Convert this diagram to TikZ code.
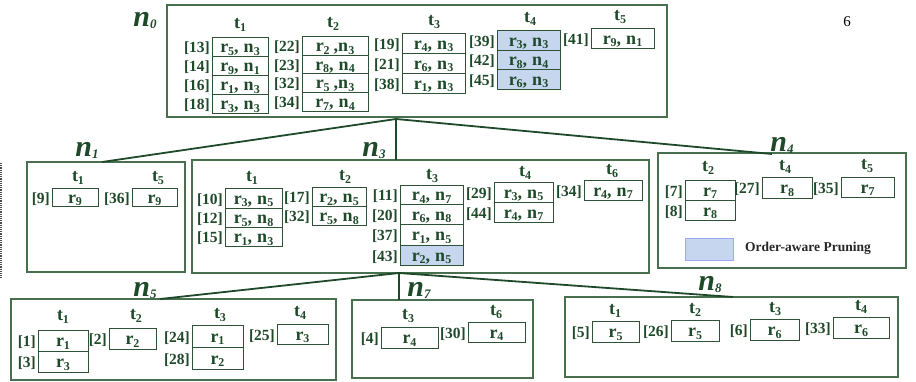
\documentclass[tikz,border=0pt]{standalone}
\usepackage{fontspec}
\setmainfont{Liberation Serif}
\definecolor{dg}{HTML}{1F4A2A}
\definecolor{frm}{HTML}{48704F}
\definecolor{cline}{HTML}{2E5236}
\definecolor{prune}{HTML}{C6D6EE}
\newcommand\cellfont{\fontsize{18}{18}\selectfont\bfseries}
\newcommand\idxfont{\fontsize{15.5}{15.5}\selectfont\bfseries}
\newcommand\legfont{\fontsize{13.5}{13.5}\selectfont\bfseries}
\newcommand\sbs[1]{\raisebox{-2.5pt}{\fontsize{12}{12}\selectfont #1}}
\newcommand\nlab[1]{{\fontsize{30}{30}\selectfont\bfseries\itshape n}{\fontsize{13}{13}\selectfont\bfseries\itshape\raisebox{-2pt}{#1}}}
\newcommand\rr[1]{r\sbs{#1}}
\newcommand\nn[1]{n\sbs{#1}}
\newcommand\sep{,\hspace{5pt}}
% name, xl, xr, yt, yb, index, text, fill
\newcommand\ent[8]{%
  \node[cellbox, fill=#8, minimum width={#3-#2}, minimum height={#5-#4}] (#1) at ({(#2+#3)/2},{(#4+#5)/2}) {#7};
  \node[idx, anchor=base east] (#1i) at ([xshift=-1.5pt]#1.base west) {#6};}
% name, x, y, sub
\newcommand\hdr[4]{\node[hdrs] (#1) at (#2,#3) {t\sbs{#4}};}
% name, x1, y1, x2, y2
\newcommand\frameN[5]{\node[framebox, minimum width={#4-#2}, minimum height={#5-#3}] (#1) at ({(#2+#4)/2},{(#3+#5)/2}) {};}
\tikzset{
  cellbox/.style={draw=cline, line width=0.9pt, inner sep=0pt, text=dg, font=\cellfont, text height=12pt, text depth=0pt},
  idx/.style={inner sep=0pt, text=dg, font=\idxfont},
  hdrs/.style={inner sep=0pt, text=dg, font=\cellfont},
  framebox/.style={draw=frm, line width=1.3pt, inner sep=0pt},
  nlabel/.style={inner sep=0pt, text=dg},
  conn/.style={draw=dg, line width=1.8pt},
}
\begin{document}
\begin{tikzpicture}[x=1pt,y=-1pt]
\useasboundingbox (0,0) rectangle (916,381);
% ---------- n0 ----------
\frameN{n0}{167}{5}{667}{117}
\node[nlabel] (n0l) at (145,20) {\nlab{0}};
\node[inner sep=0pt, font=\fontsize{15}{15}\selectfont] (pg) at (847,22) {6};
\hdr{a1}{240}{25}{1}
\ent{a11}{212}{268}{37}{56}{[13]}{\rr5\sep\nn3}{white}
\ent{a12}{212}{268}{56}{75}{[14]}{\rr9\sep\nn1}{white}
\ent{a13}{212}{268}{75}{94}{[16]}{\rr1\sep\nn3}{white}
\ent{a14}{212}{268}{94}{113}{[18]}{\rr3\sep\nn3}{white}
\hdr{a2}{333}{24}{2}
\ent{a21}{302}{368}{36}{55}{[22]}{\rr2\hspace{4pt},\nn3}{white}
\ent{a22}{302}{368}{55}{73}{[23]}{\rr8\sep\nn4}{white}
\ent{a23}{302}{368}{73}{92}{[32]}{\rr5\hspace{4pt},\nn3}{white}
\ent{a24}{302}{368}{92}{111}{[34]}{\rr7\sep\nn4}{white}
\hdr{a3}{434}{22}{3}
\ent{a31}{402}{465}{33}{53}{[19]}{\rr4\sep\nn3}{white}
\ent{a32}{402}{465}{53}{73}{[21]}{\rr6\sep\nn3}{white}
\ent{a33}{402}{465}{73}{93}{[38]}{\rr1\sep\nn3}{white}
\hdr{a4}{530}{19}{4}
\ent{a41}{497}{560}{30}{50}{[39]}{\rr3\sep\nn3}{prune}
\ent{a42}{497}{560}{50}{69}{[42]}{\rr8\sep\nn4}{prune}
\ent{a43}{497}{560}{69}{89}{[45]}{\rr6\sep\nn3}{prune}
\hdr{a5}{620}{17}{5}
\ent{a51}{591}{654}{28}{48}{[41]}{\rr9\sep\nn1}{white}
% ---------- n1 ----------
\frameN{n1}{27}{162}{185}{272}
\node[nlabel] (n1l) at (87,150) {\nlab{1}};
\hdr{b1}{78}{178}{1}
\ent{b11}{52}{98}{188}{206}{[9]}{\rr9}{white}
\hdr{b5}{158}{178}{5}
\ent{b51}{132}{177}{188}{206}{[36]}{\rr9}{white}
% ---------- n3 ----------
\frameN{n3}{192}{160}{649}{273}
\node[nlabel] (n3l) at (374,150) {\nlab{3}};
\hdr{c1}{252}{178}{1}
\ent{c11}{225}{282}{188}{208}{[10]}{\rr3\sep\nn5}{white}
\ent{c12}{225}{282}{208}{227}{[12]}{\rr5\sep\nn8}{white}
\ent{c13}{225}{282}{227}{246}{[15]}{\rr1\sep\nn3}{white}
\hdr{c2}{345}{177}{2}
\ent{c21}{312}{366}{187}{206}{[17]}{\rr2\sep\nn5}{white}
\ent{c22}{312}{366}{206}{225}{[32]}{\rr5\sep\nn8}{white}
\hdr{c3}{432}{176}{3}
\ent{c31}{400}{463}{185}{204}{[11]}{\rr4\sep\nn7}{white}
\ent{c32}{400}{463}{204}{224}{[20]}{\rr6\sep\nn8}{white}
\ent{c33}{400}{463}{224}{245}{[37]}{\rr1\sep\nn5}{white}
\ent{c34}{400}{463}{245}{265}{[43]}{\rr2\sep\nn5}{prune}
\hdr{c4}{525}{173}{4}
\ent{c41}{494}{553}{182}{202}{[29]}{\rr3\sep\nn5}{white}
\ent{c42}{494}{553}{202}{222}{[44]}{\rr4\sep\nn7}{white}
\hdr{c6}{612}{171}{6}
\ent{c61}{584}{642}{180}{200}{[34]}{\rr4\sep\nn7}{white}
% ---------- n4 ----------
\frameN{n4}{658}{153}{906}{268}
\node[nlabel] (n4l) at (782,145) {\nlab{4}};
\hdr{d2}{708}{168}{2}
\ent{d21}{685}{735}{180}{200}{[7]}{\rr7}{white}
\ent{d22}{685}{735}{200}{220}{[8]}{\rr8}{white}
\hdr{d4}{785}{167}{4}
\ent{d41}{762}{812}{177}{198}{[27]}{\rr8}{white}
\hdr{d5}{867}{166}{5}
\ent{d51}{841}{894}{177}{197}{[35]}{\rr7}{white}
\node[draw=prune!80!blue, fill=prune, line width=0.6pt, minimum width=48pt, minimum height=22pt, inner sep=0pt] (leg) at (709,249) {};
\node[anchor=west, inner sep=0pt, font=\legfont, text=black!85] (legt) at (745,248) {Order-aware Pruning};
% ---------- n5 ----------
\frameN{n5}{11}{299}{336}{380}
\node[nlabel] (n5l) at (145,290) {\nlab{5}};
\hdr{e1}{63}{317}{1}
\ent{e11}{38}{88}{330}{351}{[1]}{\rr1}{white}
\ent{e12}{38}{88}{351}{372}{[3]}{\rr3}{white}
\hdr{e2}{136}{316}{2}
\ent{e21}{109}{156}{328}{349}{[2]}{\rr2}{white}
\hdr{e3}{220}{315}{3}
\ent{e31}{192}{243}{325}{347}{[24]}{\rr1}{white}
\ent{e32}{192}{243}{347}{369}{[28]}{\rr2}{white}
\hdr{e4}{300}{313}{4}
\ent{e41}{277}{328}{324}{344}{[25]}{\rr3}{white}
% ---------- n7 ----------
\frameN{n7}{352}{300}{533}{378}
\node[nlabel] (n7l) at (419,290) {\nlab{7}};
\hdr{f3}{408}{316}{3}
\ent{f31}{381}{438}{327}{348}{[4]}{\rr4}{white}
\hdr{f6}{496}{312}{6}
\ent{f61}{468}{525}{322}{342}{[30]}{\rr4}{white}
% ---------- n8 ----------
\frameN{n8}{565}{297}{898}{377}
\node[nlabel] (n8l) at (710,284) {\nlab{8}};
\hdr{g1}{615}{311}{1}
\ent{g11}{592}{639}{321}{342}{[5]}{\rr5}{white}
\hdr{g2}{695}{310}{2}
\ent{g21}{671}{719}{320}{341}{[26]}{\rr5}{white}
\hdr{g3}{775}{309}{3}
\ent{g31}{750}{799}{319}{340}{[6]}{\rr6}{white}
\hdr{g4}{861}{307}{4}
\ent{g41}{833}{889}{317}{338}{[33]}{\rr6}{white}
% ---------- connectors ----------
\coordinate (ap0) at (396,119);
\coordinate (t1) at (102,162);
\coordinate (t3) at (396,160);
\coordinate (t4) at (772,154);
\draw[conn] (ap0) -- (t1);
\draw[conn] (ap0) -- (t3);
\draw[conn] (ap0) -- (t4);
\coordinate (ap3) at (399,273);
\coordinate (t5) at (160,299);
\coordinate (t7) at (399,300);
\coordinate (t8) at (733,297);
\draw[conn] (ap3) -- (t5);
\draw[conn] (ap3) -- (t7);
\draw[conn] (ap3) -- (t8);
% dotted edge at left
\coordinate (dA) at (1,163);
\coordinate (dB) at (1,278);
\draw[densely dotted, line width=1.2pt, black!70] (dA) -- (dB);
\end{tikzpicture}
\end{document}
